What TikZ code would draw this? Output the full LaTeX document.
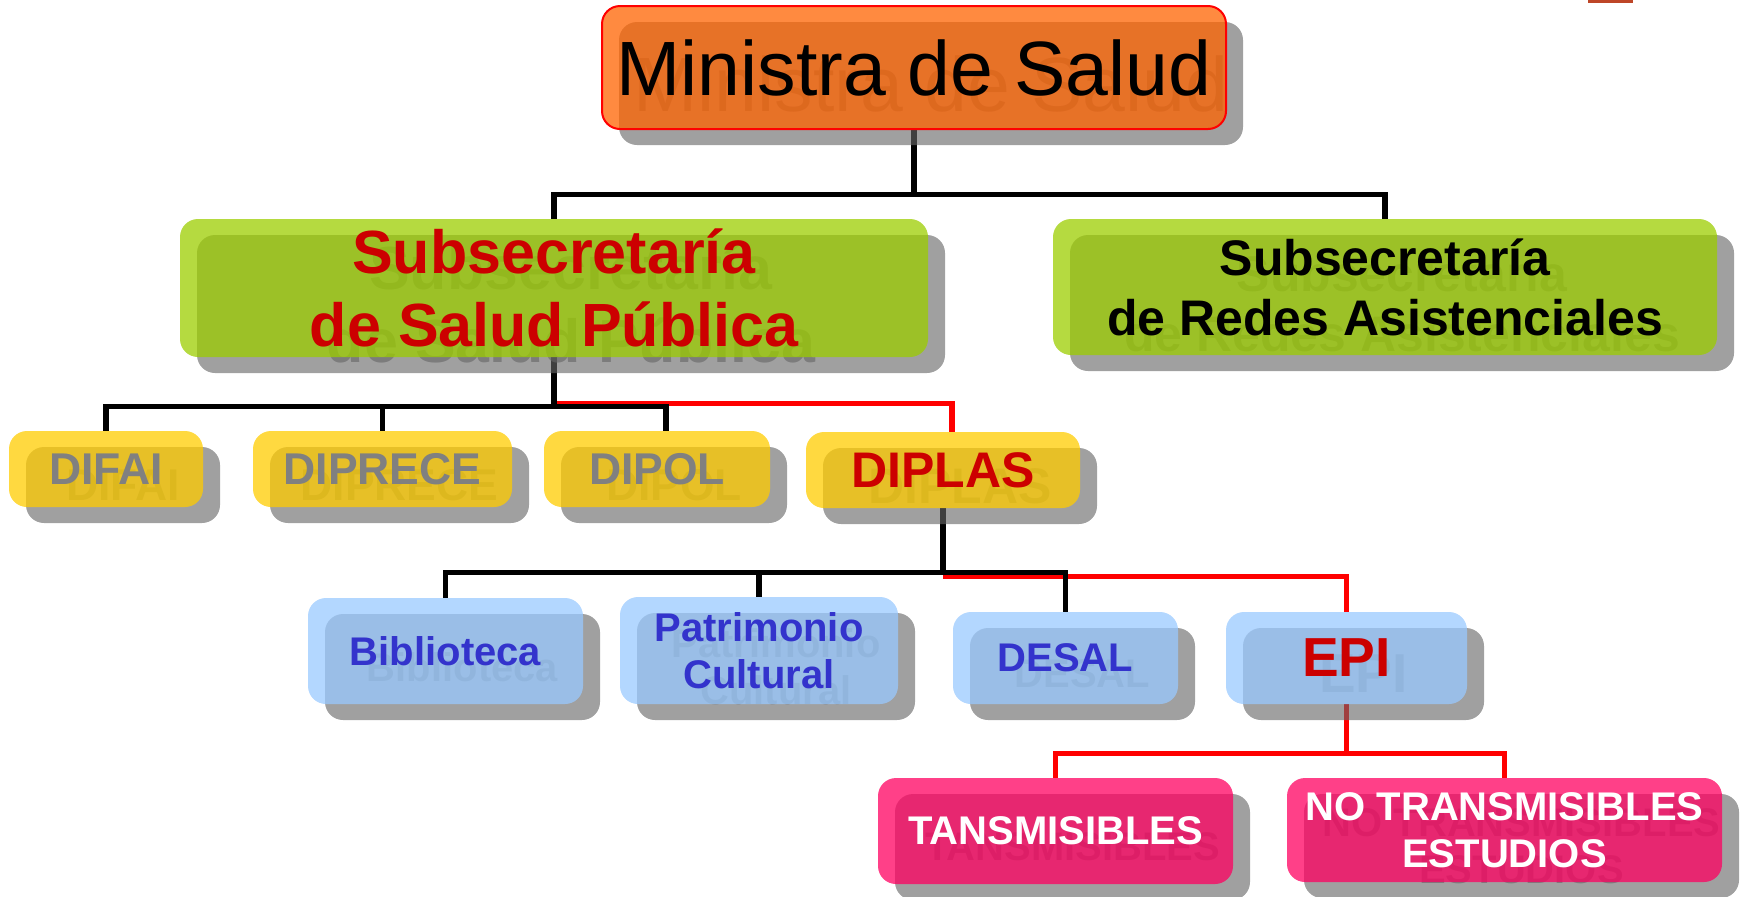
\documentclass[tikz,border=0pt]{standalone}
\usepackage{fontspec}
\setmainfont{Liberation Sans}
\usepackage{tikz}
\pgfdeclarelayer{bg}
\pgfsetlayers{bg,main}
\definecolor{boxorange}{RGB}{255,99,0}
\definecolor{boxgreen}{RGB}{156,205,0}
\definecolor{boxyellow}{RGB}{255,204,0}
\definecolor{boxblue}{RGB}{153,201,255}
\definecolor{boxpink}{RGB}{255,0,96}
\definecolor{txtred}{RGB}{204,0,0}
\definecolor{txtblue}{RGB}{51,51,204}
\definecolor{txtgray}{RGB}{128,128,128}
\definecolor{shadowgray}{RGB}{102,102,102}
\definecolor{linered}{RGB}{255,0,0}
\definecolor{markred}{RGB}{190,70,40}

\begin{document}
\begin{tikzpicture}[x=0.5pt,y=-0.5pt,
  box/.style={rounded corners=9pt,inner sep=0pt,align=center,fill opacity=0.75,text opacity=1},
  ghost/.style={rounded corners=9pt,inner sep=0pt,align=center,fill=shadowgray,text=shadowgray,fill opacity=0.62,text opacity=0.62},
  fmin/.style={font=\fontsize{38.5pt}{46pt}\selectfont},
  fssp/.style={font=\bfseries\fontsize{30.5pt}{36.5pt}\selectfont},
  fsra/.style={font=\bfseries\fontsize{25pt}{30pt}\selectfont},
  fdir/.style={font=\bfseries\fontsize{22.25pt}{26pt}\selectfont},
  fsub/.style={font=\bfseries\fontsize{20pt}{23.75pt}\selectfont},
  fepi/.style={font=\bfseries\fontsize{27.5pt}{32pt}\selectfont},
  conn/.style={line width=2.7pt},
  redconn/.style={line width=2.7pt,linered}]
  \useasboundingbox (0,0) rectangle (1743,896);
  \fill[markred] (1588,0) rectangle (1633,3);
  % shadows
  \node[ghost,fmin,minimum width=312pt,minimum height=61.5pt] (s-min) at (931,83.5) {Ministra de Salud};
  \node[ghost,fssp,minimum width=374pt,minimum height=69pt] (s-ssp) at (571,304) {Subsecretaría\\de Salud Pública};
  \node[ghost,fsra,minimum width=332pt,minimum height=68pt] (s-sra) at (1402,303) {Subsecretaría\\de Redes Asistenciales};
  \node[ghost,fdir,minimum width=97pt,minimum height=38pt] (s-difai) at (123,485) {DIFAI};
  \node[ghost,fdir,minimum width=129.5pt,minimum height=38pt] (s-diprece) at (399.5,485) {DIPRECE};
  \node[ghost,fdir,minimum width=113pt,minimum height=38pt] (s-dipol) at (674,485) {DIPOL};
  \node[ghost,fsra,minimum width=137pt,minimum height=38pt] (s-diplas) at (960,486) {DIPLAS};
  \node[ghost,fsub,minimum width=137.5pt,minimum height=53pt] (s-bib) at (462.5,667) {Biblioteca};
  \node[ghost,fsub,minimum width=139pt,minimum height=53.5pt] (s-pat) at (776,666.5) {Patrimonio\\Cultural};
  \node[ghost,fsub,minimum width=112.5pt,minimum height=46pt] (s-desal) at (1082.5,674) {DESAL};
  \node[ghost,fepi,minimum width=120.5pt,minimum height=46pt] (s-epi) at (1363.5,674) {EPI};
  \node[ghost,fsub,minimum width=177.5pt,minimum height=53pt] (s-tans) at (1072.5,847) {TANSMISIBLES};
  \node[ghost,fsub,minimum width=217.5pt,minimum height=52pt] (s-notr) at (1521.5,846) {NO TRANSMISIBLES\\ESTUDIOS};
  % boxes
  \node[box,fmin,fill=boxorange,draw=red,line width=1pt,minimum width=312pt,minimum height=61.5pt] (min) at (914,67.5) {Ministra de Salud};
  \node[box,fssp,fill=boxgreen,text=txtred,minimum width=374pt,minimum height=69pt] (ssp) at (554,288) {Subsecretaría\\de Salud Pública};
  \node[box,fsra,fill=boxgreen,minimum width=332pt,minimum height=68pt] (sra) at (1385,287) {Subsecretaría\\de Redes Asistenciales};
  \node[box,fdir,fill=boxyellow,text=txtgray,minimum width=97pt,minimum height=38pt] (difai) at (106,469) {DIFAI};
  \node[box,fdir,fill=boxyellow,text=txtgray,minimum width=129.5pt,minimum height=38pt] (diprece) at (382.5,469) {DIPRECE};
  \node[box,fdir,fill=boxyellow,text=txtgray,minimum width=113pt,minimum height=38pt] (dipol) at (657,469) {DIPOL};
  \node[box,fsra,fill=boxyellow,text=txtred,minimum width=137pt,minimum height=38pt] (diplas) at (943,470) {DIPLAS};
  \node[box,fsub,fill=boxblue,text=txtblue,minimum width=137.5pt,minimum height=53pt] (bib) at (445.5,651) {Biblioteca};
  \node[box,fsub,fill=boxblue,text=txtblue,minimum width=139pt,minimum height=53.5pt] (pat) at (759,650.5) {Patrimonio\\Cultural};
  \node[box,fsub,fill=boxblue,text=txtblue,minimum width=112.5pt,minimum height=46pt] (desal) at (1065.5,658) {DESAL};
  \node[box,fepi,fill=boxblue,text=txtred,minimum width=120.5pt,minimum height=46pt] (epi) at (1346.5,658) {EPI};
  \node[box,fsub,fill=boxpink,text=white,minimum width=177.5pt,minimum height=53pt] (tans) at (1055.5,831) {TANSMISIBLES};
  \node[box,fsub,fill=boxpink,text=white,minimum width=217.5pt,minimum height=52pt] (notr) at (1504.5,830) {NO TRANSMISIBLES\\ESTUDIOS};
  % connectors
  \begin{pgfonlayer}{bg}
    \draw[redconn](ssp.south) ++(0,46) -| ([xshift=4.5pt]diplas.north);
    \draw[redconn](diplas.south) ++(0,68) -| (epi.north);
    \draw[redconn](epi.south) -- ++(0,50);
    \draw[redconn](tans.north) -- ++(0,-24) -| (notr.north);
    \draw[conn](min.south) -- ++(0,66);
    \draw[conn](ssp.north) -- ++(0,-24) -| (sra.north);
    \draw[conn](ssp.south) -- ++(0,50);
    \draw[conn](difai.north) -- ++(0,-24) -| ([xshift=4.5pt]dipol.north);
    \draw[conn](diprece.north) -- ++(0,-24);
    \draw[conn](diplas.south) -- ++(0,65);
    \draw[conn](bib.north) -- ++(0,-25) -| (desal.north);
    \draw[conn](pat.north) -- ++(0,-24);
  \end{pgfonlayer}
\end{tikzpicture}
\end{document}
